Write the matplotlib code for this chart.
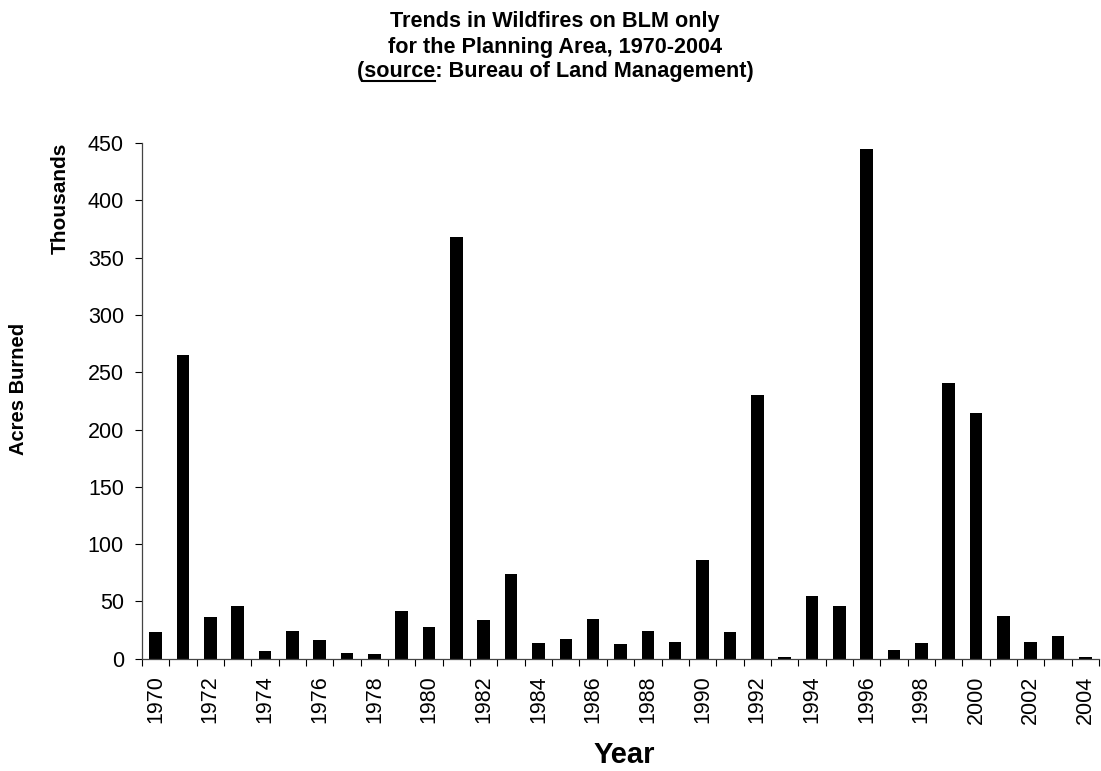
import matplotlib
matplotlib.use("Agg")
from matplotlib import pyplot as plt
from matplotlib.lines import Line2D
import numpy as np

years = list(range(1970, 2005))
acres = [23.5, 265, 36, 46, 6.5, 24.5, 16, 5, 4, 42,
         28, 368, 34, 74, 14, 17, 35, 12.5, 24.5, 15,
         86.5, 23.5, 230.5, 1.5, 54.5, 46, 445, 7.5, 13.5, 241,
         214, 37.5, 15, 19.5, 1.5]
yticks = [0, 50, 100, 150, 200, 250, 300, 350, 400, 450]
title_lines = ["Trends in Wildfires on BLM only",
               "for the Planning Area, 1970-2004",
               "(source: Bureau of Land Management)"]

plt.rcParams["font.family"] = ["Liberation Sans", "DejaVu Sans"]

W, H = 1101, 771
fig = plt.figure(figsize=(W/100, H/100), dpi=100)
ax = fig.add_axes([142/W, 112.3/H, 957/W, (658.7-143)/H])

x = np.arange(len(years))
ax.bar(x, acres, width=0.46, color="black", edgecolor="none")

ax.set_xlim(-0.5, len(years)-0.5)
ax.set_ylim(0, 450)
ax.set_yticks(yticks)
ax.tick_params(axis="y", labelsize=15.5, length=5, width=0.8, pad=8, direction="out")

# tick marks between categories, labels on every other year
ax.set_xticks(np.arange(len(years)+1) - 0.5)
ax.set_xticklabels([])
ax.set_xticks(x[::2], minor=True)
ax.set_xticklabels([str(y) for y in years[::2]], minor=True, rotation=90, fontsize=15.5)
ax.tick_params(axis="x", which="major", length=5, width=0.8, direction="out")
ax.tick_params(axis="x", which="minor", length=0, pad=12)

for s in ["top", "right"]:
    ax.spines[s].set_visible(False)
for s in ["left", "bottom"]:
    ax.spines[s].set_color("#444444")
    ax.spines[s].set_linewidth(0.9)

fig.text(624/W, 1-755/H, "Year", ha="center", va="center", fontsize=21, fontweight="bold")
fig.text(19/W, 1-389/H, "Acres Burned", rotation=90, ha="center", va="center",
         fontsize=14.5, fontweight="bold")
fig.text(60/W, 1-198/H, "Thousands", rotation=90, ha="center", va="center",
         fontsize=15, fontweight="bold")

tx = 555/W
texts = []
for i, line in enumerate(title_lines):
    t = fig.text(tx, 1-(22+25*i)/H, line, ha="center", va="center",
                 fontsize=15.6, fontweight="bold")
    texts.append(t)

# underline "source" in the third line
renderer = fig.canvas.get_renderer()
t3 = texts[2]
bb = t3.get_window_extent(renderer)
fp = t3.get_fontproperties()
w_open = renderer.get_text_width_height_descent("(", fp, ismath=False)[0]
w_src = renderer.get_text_width_height_descent("(source", fp, ismath=False)[0]
desc = renderer.get_text_width_height_descent(title_lines[2], fp, ismath=False)[2]
base = bb.y0 + desc
uy = (base - 3) / H
fig.add_artist(Line2D([(bb.x0 + w_open)/W, (bb.x0 + w_src)/W], [uy, uy],
                      transform=fig.transFigure, color="black", linewidth=1.5))

plt.savefig("out.png", dpi=100)
